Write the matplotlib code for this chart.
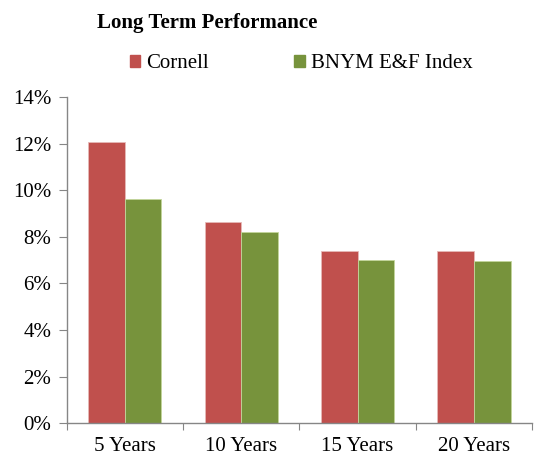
import numpy as np
import matplotlib
matplotlib.use("Agg")
import matplotlib.pyplot as plt
from matplotlib.patches import Patch

periods = ["5 Years", "10 Years", "15 Years", "20 Years"]
cornell = [12.07, 8.62, 7.41, 7.39]
bnym = [9.61, 8.19, 6.99, 6.96]
series_names = ["Cornell", "BNYM E&F Index"]
yticks = [0, 2, 4, 6, 8, 10, 12, 14]

red = "#C0504D"
green = "#77933C"
axis_grey = "#868686"

plt.rcParams["font.family"] = ["Liberation Serif", "DejaVu Serif"]

fig = plt.figure(figsize=(5.37, 4.57), dpi=100)
ax = fig.add_axes([0.124, 0.0737, 0.867, 0.7143])

x = np.arange(len(periods))
w = 0.315
ax.bar(x - w / 2, cornell, w, color=red, edgecolor="#E6B9B8", linewidth=0.6)
ax.bar(x + w / 2, bnym, w, color=green, edgecolor="#C3D69B", linewidth=0.6)

ax.set_xlim(-0.5, len(periods) - 0.5)
ax.set_ylim(0, 14)
ax.set_yticks(yticks)
ax.set_yticklabels([f"{t}%" for t in yticks], fontsize=15)

# category boundaries get the tick marks, labels sit in the middle
ax.set_xticks(np.arange(len(periods) + 1) - 0.5)
ax.set_xticklabels([])
ax.set_xticks(x, minor=True)
ax.set_xticklabels(periods, minor=True, fontsize=15)
ax.tick_params(axis="x", which="minor", length=0, pad=10)
ax.tick_params(axis="x", which="major", length=5, color=axis_grey, direction="out")
ax.tick_params(axis="y", length=6, color=axis_grey, direction="out", pad=5)

for s in ["top", "right"]:
    ax.spines[s].set_visible(False)
for s in ["left", "bottom"]:
    ax.spines[s].set_color(axis_grey)
    ax.spines[s].set_linewidth(1.0)

fig.text(0.386, 0.949, "Long Term Performance", fontsize=15, fontweight="bold",
         ha="center", va="center")

handles = [Patch(color=red), Patch(color=green)]
fig.legend(handles, series_names, loc="center", bbox_to_anchor=(0.561, 0.86),
           ncol=2, frameon=False, fontsize=15, handlelength=0.5, handleheight=0.5,
           handletextpad=0.3, columnspacing=4.1)

fig.savefig("out.png", dpi=100)
